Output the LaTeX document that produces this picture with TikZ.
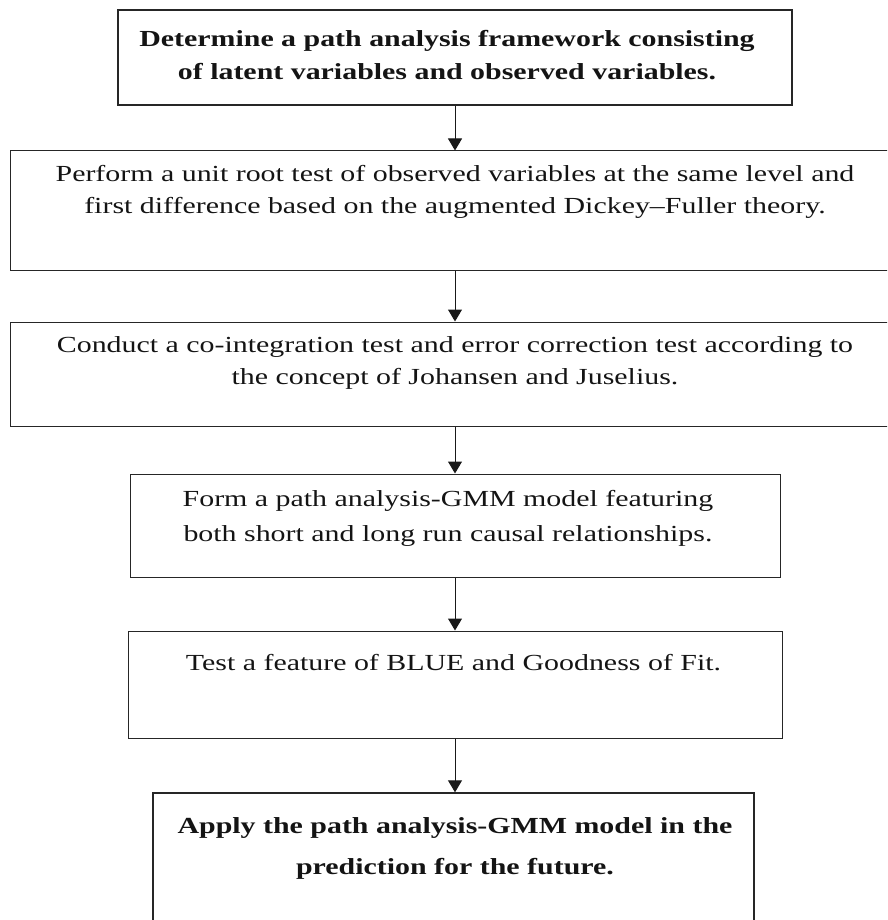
\documentclass[tikz,border=0pt]{standalone}
\usepackage{fontspec}
\setmainfont{Liberation Serif}[FakeStretch=1.3]
\usetikzlibrary{arrows.meta}
\begin{document}
\begin{tikzpicture}[x=1pt,y=-1pt,
  stepbox/.style={draw=black!85,line width=1pt,inner sep=0pt},
  keybox/.style={stepbox,line width=1.4pt},
  steptext/.style={align=center,inner sep=0pt,text=black!92,
    font=\fontsize{23}{32}\selectfont},
  keytext/.style={steptext,font=\fontsize{23}{33}\selectfont\bfseries},
  flow/.style={draw=black!90,line width=1pt,-{Triangle[length=12pt,width=14pt]}}]
\useasboundingbox (0,0) rectangle (887,920);
\clip (0,0) rectangle (887,920);
% process boxes
\node[keybox,minimum width=674pt,minimum height=95pt] (b1) at (455,57.5) {};
\node[stepbox,minimum width=890pt,minimum height=119pt] (b2) at (455,210.5) {};
\node[stepbox,minimum width=890pt,minimum height=104pt] (b3) at (455,374) {};
\node[stepbox,minimum width=650pt,minimum height=103pt] (b4) at (455,525.5) {};
\node[stepbox,minimum width=654pt,minimum height=107pt] (b5) at (455,684.5) {};
\node[keybox,minimum width=601pt,minimum height=160pt] (b6) at (453.5,873) {};
% box texts
\node[keytext] (t1) at (447,55) {Determine a path analysis framework consisting\\of latent variables and observed variables.};
\node[steptext] (t2) at (455,192) {Perform a unit root test of observed variables at the same level and\\first difference based on the augmented Dickey--Fuller theory.};
\node[steptext] (t3) at (455,363) {Conduct a co-integration test and error correction test according to\\the concept of Johansen and Juselius.};
\node[steptext,font=\fontsize{23}{35}\selectfont] (t4) at (448,518) {Form a path analysis-GMM model featuring\\both short and long run causal relationships.};
\node[steptext] (t5) at (453.5,663) {Test a feature of BLUE and Goodness of Fit.};
\node[keytext,font=\fontsize{23}{41}\selectfont\bfseries] (t6) at (455,848) {Apply the path analysis-GMM model in the\\prediction for the future.};
% connectors
\draw[flow] (b1.south) -- (b2.north);
\draw[flow] (b2.south) -- (b3.north);
\draw[flow] (b3.south) -- (b4.north);
\draw[flow] (b4.south) -- (b5.north);
\draw[flow] (b5.south) -- (b5.south |- b6.north);
\end{tikzpicture}
\end{document}
